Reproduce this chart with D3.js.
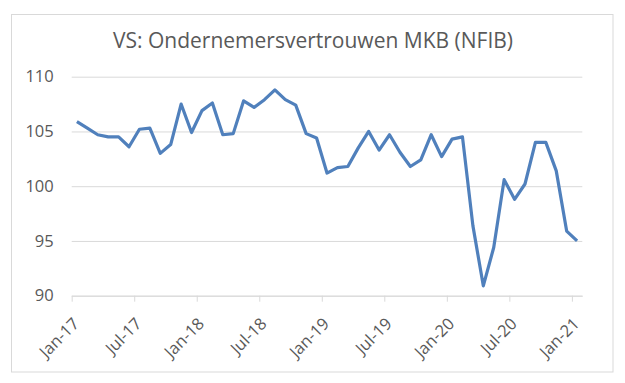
<!DOCTYPE html>
<html>
<head>
<meta charset="utf-8">
<script src="https://cdn.jsdelivr.net/npm/d3@7"></script>
<style>
  body { margin: 0; background: #ffffff; }
  text { font-family: 'Open Sans', sans-serif; }
</style>
</head>
<body>
<div id="chart"></div>
<script>
const months = [
  'Jan-17', 'Feb-17', 'Mar-17', 'Apr-17', 'May-17', 'Jun-17', 'Jul-17', 'Aug-17', 'Sep-17', 'Oct-17', 'Nov-17', 'Dec-17',
  'Jan-18', 'Feb-18', 'Mar-18', 'Apr-18', 'May-18', 'Jun-18', 'Jul-18', 'Aug-18', 'Sep-18', 'Oct-18', 'Nov-18', 'Dec-18',
  'Jan-19', 'Feb-19', 'Mar-19', 'Apr-19', 'May-19', 'Jun-19', 'Jul-19', 'Aug-19', 'Sep-19', 'Oct-19', 'Nov-19', 'Dec-19',
  'Jan-20', 'Feb-20', 'Mar-20', 'Apr-20', 'May-20', 'Jun-20', 'Jul-20', 'Aug-20', 'Sep-20', 'Oct-20', 'Nov-20', 'Dec-20',
  'Jan-21',
]

const optimism = [
  105.9, 105.3, 104.7, 104.5, 104.5, 103.6, 105.2, 105.3, 103.0, 103.8, 107.5, 104.9,
  106.9, 107.6, 104.7, 104.8, 107.8, 107.2, 107.9, 108.8, 107.9, 107.4, 104.8, 104.4,
  101.2, 101.7, 101.8, 103.5, 105.0, 103.3, 104.7, 103.1, 101.8, 102.4, 104.7, 102.7,
  104.3, 104.5, 96.4, 90.9, 94.4, 100.6, 98.8, 100.2, 104.0, 104.0, 101.4, 95.9,
  95.0,
]

const xTickLabels = ['Jan-17', 'Jul-17', 'Jan-18', 'Jul-18', 'Jan-19', 'Jul-19', 'Jan-20', 'Jul-20', 'Jan-21']
const yTicks = [90, 95, 100, 105, 110]

const TITLE = 'VS: Ondernemersvertrouwen MKB (NFIB)'

const W = 625
const H = 383
const plot = { left: 71.7, right: 582.3, top: 76.7, bottom: 295.7 }

const svg = d3.select('#chart').append('svg').attr('width', W).attr('height', H)

svg
  .append('rect')
  .attr('x', 11.5)
  .attr('y', 14.5)
  .attr('width', 601.5)
  .attr('height', 357.5)
  .attr('fill', '#ffffff')
  .attr('stroke', '#d9d9d9')

svg
  .append('text')
  .attr('x', 313)
  .attr('y', 48)
  .attr('text-anchor', 'middle')
  .attr('fill', '#595959')
  .attr('font-size', 21)
  .text(TITLE)

// category axis: one slot per month, points in the middle of the slot
const x = d3.scaleLinear().domain([0, months.length]).range([plot.left, plot.right])
const y = d3.scaleLinear().domain([90, 110]).range([plot.bottom, plot.top])

// gridlines + y labels
const yAxis = svg
  .append('g')
  .attr('transform', `translate(${plot.left},0)`)
  .call(
    d3
      .axisLeft(y)
      .tickValues(yTicks)
      .tickSize(-(plot.right - plot.left))
      .tickPadding(18)
  )
yAxis.select('.domain').remove()
yAxis.selectAll('line').attr('stroke', '#d9d9d9').attr('stroke-width', 1)
yAxis
  .selectAll('text')
  .attr('fill', '#595959')
  .attr('font-size', 16.5)
  .attr('font-family', "'Open Sans', sans-serif")

// x axis, ticks every 6 months on slot boundaries
const tickIdx = xTickLabels.map((l) => months.indexOf(l))
const xAxis = svg
  .append('g')
  .attr('transform', `translate(0,${plot.bottom})`)
  .call(
    d3
      .axisBottom(x)
      .tickValues(tickIdx)
      .tickSize(6)
      .tickSizeOuter(0)
      .tickFormat((i) => months[i])
  )
xAxis.select('.domain').attr('stroke', '#d9d9d9')
xAxis.selectAll('line').attr('stroke', '#d9d9d9')
xAxis
  .selectAll('text')
  .attr('fill', '#595959')
  .attr('font-size', 16.5)
  .attr('font-family', "'Open Sans', sans-serif")
  .attr('text-anchor', 'end')
  .attr('dy', 0)
  .attr('y', 0)
  .attr('transform', 'translate(8, 29) rotate(-45)')

const line = d3
  .line()
  .x((d, i) => x(i + 0.5))
  .y((d) => y(d))

svg
  .append('path')
  .datum(optimism)
  .attr('d', line)
  .attr('fill', 'none')
  .attr('stroke', '#5080bc')
  .attr('stroke-width', 3.2)
  .attr('stroke-linejoin', 'round')
</script>
</body>
</html>
